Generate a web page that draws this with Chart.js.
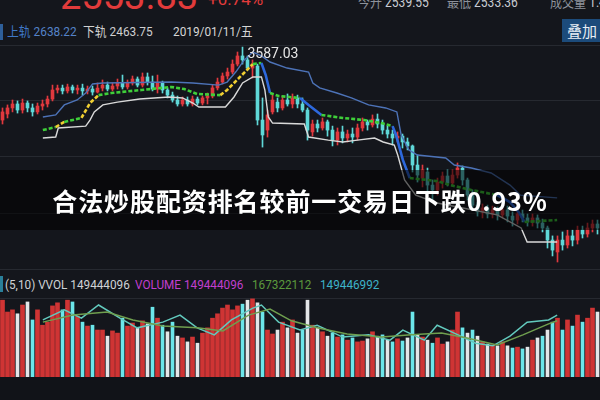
<!DOCTYPE html>
<html lang="zh-CN">
<head>
<meta charset="utf-8">
<title>K线走势</title>
<script src="https://cdn.jsdelivr.net/npm/chart.js@4.4.1/dist/chart.umd.min.js"></script>
<style>
    html, body { margin: 0; padding: 0; background: #14161c; }
    #wrap {
        position: relative; width: 600px; height: 400px; overflow: hidden;
        background: #14161c; font-family: Roboto, "Noto Sans CJK SC", sans-serif;
    }
    .abs { position: absolute; white-space: nowrap; }
    .narrow { transform-origin: 0 0; }
    #priceBox { position: absolute; left: 0; top: 45px; width: 600px; height: 225px; }
    #volBox { position: absolute; left: 0; top: 298px; width: 600px; height: 79px; }
    #bottomStrip { position: absolute; left: 0; top: 377px; width: 600px; height: 23px; background: #111318; }
    .hline { position: absolute; left: 0; width: 600px; height: 1px; background: #262930; }
    .top1 { top: -6px; font-size: 14px; line-height: 16px; color: #8d929b; transform: scaleX(0.86); }
    .row2 { top: 24px; font-size: 13px; line-height: 16px; transform: scaleX(0.91); }
    .volRow { top: 276px; font-size: 13.5px; line-height: 16px; transform: scaleX(0.87); }
    #caption {
        position: absolute; left: 0; top: 170px; width: 600px; height: 60px;
        background: rgba(0, 0, 0, 0.55); color: #fff; text-align: center;
        font: bold 25px/60px "Noto Sans CJK SC", sans-serif; letter-spacing: 0.9px;
    }
    #btn {
        position: absolute; left: 562px; top: 19px; width: 40px; height: 23px;
        background: #1c4b7b; color: #e8eef5; font: 15px/23px "Noto Sans CJK SC", sans-serif;
        text-align: center;
    }
</style>
</head>
<body>
<div id="wrap">
    <!-- 顶部行情（被裁切） -->
    <div class="abs" style="left:60px; top:-26px; font-size:38px; line-height:44px; color:#e23b3b;">2553.83</div>
    <div class="abs" style="left:208px; top:-11px; font-size:17px; line-height:20px; color:#e23b3b;">+0.74%</div>
    <div class="abs narrow top1" style="left:358px;">今开 <span style="color:#c9ccd2">2539.55</span></div>
    <div class="abs narrow top1" style="left:447px;">最低 <span style="color:#c9ccd2">2533.36</span></div>
    <div class="abs narrow top1" style="left:550px;">成交量 <span style="color:#c9ccd2">1.49亿</span></div>

    <!-- 布林带数值 -->
    <div class="abs" style="left:0; top:24px; width:3px; height:16px; background:#2e5f9a;"></div>
    <div class="abs narrow row2" style="left:7px; color:#3f78c8;">上轨 <span style="color:#5583c8">2638.22</span></div>
    <div class="abs narrow row2" style="left:83px; color:#d0d0d0;">下轨 2463.75</div>
    <div class="abs narrow row2" style="left:173px; color:#d6d6d6;">2019/01/11/五</div>
    <div id="btn">叠加</div>

    <div id="priceBox"><canvas id="price" width="600" height="225"></canvas></div>
    <div id="peakLabel" class="abs" style="font-size:14px; line-height:14px; color:#e6e6e6;">3587.03</div>

    <!-- 成交量 -->
    <div class="hline" style="top:298px;"></div>
    <div class="abs" style="left:0; top:276px; width:3px; height:16px; background:#2a7f9a;"></div>
    <div class="abs narrow volRow" style="left:5px; color:#cfd2d6;">(5,10) VVOL 149444096</div>
    <div class="abs narrow volRow" style="left:135px; color:#c13fcf;">VOLUME 149444096</div>
    <div class="abs narrow volRow" style="left:252px; color:#5c9a3d;">167322112</div>
    <div class="abs narrow volRow" style="left:320px; color:#3db3c9;">149446992</div>
    <div id="volBox"><canvas id="vol" width="600" height="79"></canvas></div>
    <div id="bottomStrip"></div>

    <div id="caption">合法炒股配资排名较前一交易日下跌0.93%</div>
</div>

<script>
// 日K数据
const openP = [3201,3233,3265,3286,3254,3291,3265,3244,3275,3286,
    3312,3360,3370,3355,3376,3360,3370,3355,3365,3349,
    3370,3386,3365,3381,3397,3376,3397,3418,3386,3429,
    3402,3365,3397,3360,3333,3307,3286,3307,3286,3312,
    3291,3318,3328,3371,3402,3434,3455,3497,3540,3519,
    3476,3487,3201,3148,3244,3296,3265,3307,3286,3318,
    3286,3254,3138,3180,3159,3191,3148,3095,3138,3106,
    3127,3111,3159,3191,3175,3206,3180,3148,3127,3106,
    3116,3085,3064,2963,2894,2926,2857,2831,2873,2905,
    2868,2910,2947,2884,2804,2751,2715,2736,2704,2725,
    2699,2725,2693,2672,2704,2683,2662,2683,2656,2630,
    2566,2503,2566,2540,2588,2566,2619,2598,2630,2651];
const closeP = [3244,3265,3286,3254,3291,3265,3244,3275,3286,3312,
    3360,3370,3355,3376,3360,3370,3355,3365,3349,3370,
    3386,3365,3381,3397,3376,3397,3418,3386,3429,3402,
    3365,3397,3360,3333,3307,3286,3307,3286,3312,3291,
    3318,3328,3371,3402,3434,3455,3497,3540,3519,3476,
    3497,3201,3122,3228,3307,3265,3307,3286,3318,3286,
    3254,3148,3180,3159,3191,3148,3095,3138,3106,3127,
    3111,3159,3191,3175,3206,3180,3148,3127,3106,3116,
    3085,3064,2963,2910,2937,2857,2831,2873,2905,2868,
    2910,2947,2884,2804,2751,2715,2736,2704,2725,2699,
    2725,2693,2672,2704,2683,2662,2683,2656,2630,2566,
    2513,2566,2540,2588,2566,2619,2598,2630,2651,2630];
const highP = [3265,3281,3307,3302,3312,3302,3286,3291,3307,3328,
    3386,3386,3386,3391,3386,3386,3391,3381,3381,3397,
    3413,3402,3397,3418,3439,3413,3434,3429,3450,3450,
    3434,3439,3407,3371,3349,3328,3323,3323,3328,3323,
    3328,3344,3386,3423,3450,3476,3519,3561,3587,3540,
    3519,3497,3318,3254,3333,3318,3328,3339,3339,3333,
    3318,3265,3201,3201,3212,3201,3169,3159,3169,3148,
    3159,3180,3212,3201,3228,3233,3201,3169,3148,3138,
    3127,3106,3069,3016,2963,2947,2884,2894,2926,2937,
    2937,2974,2958,2894,2831,2767,2757,2751,2746,2741,
    2751,2746,2715,2725,2725,2704,2704,2699,2677,2640,
    2588,2588,2609,2619,2619,2640,2640,2656,2672,2672];
const lowP = [3180,3212,3244,3238,3238,3244,3222,3233,3254,3270,
    3302,3344,3339,3344,3344,3339,3333,3339,3333,3344,
    3355,3355,3355,3365,3365,3365,3386,3376,3376,3386,
    3355,3344,3344,3318,3296,3275,3275,3275,3275,3281,
    3281,3286,3318,3360,3392,3418,3445,3487,3497,3466,
    3423,3175,3058,3111,3233,3244,3254,3275,3265,3265,
    3244,3095,3116,3138,3148,3116,3064,3069,3080,3085,
    3080,3095,3143,3148,3164,3159,3127,3106,3069,3085,
    3053,3043,2926,2873,2847,2820,2778,2804,2841,2852,
    2852,2894,2857,2778,2736,2693,2683,2683,2683,2672,
    2683,2662,2640,2651,2662,2640,2640,2630,2609,2524,
    2482,2450,2513,2524,2535,2545,2577,2582,2609,2598];

// 成交量（百万）
const volume = [175,148,153,144,164,171,130,153,118,125,
    162,169,153,175,171,139,125,116,118,107,
    107,93,105,100,134,116,123,112,128,121,
    159,134,118,103,125,93,89,80,91,77,
    100,112,134,144,157,164,153,162,166,175,
    178,169,148,107,98,107,125,112,130,100,
    107,175,118,112,103,93,100,91,96,84,
    89,80,82,87,103,93,96,84,80,87,
    82,89,148,96,91,84,77,89,75,80,
    107,148,112,100,107,93,80,75,73,71,
    80,71,66,68,64,68,84,89,93,107,
    125,134,107,130,116,141,125,134,157,148];

// 布林带 [序号, 点位]
const upperBand = [[-0.5,3217],[2.5,3228],[4.5,3281],[7.5,3307],[9.5,3344],[11.1,3392],[13.5,3397],
    [29.5,3402],[34.5,3397],[40.5,3386],[42.5,3402],[44.5,3455],[46.5,3519],[48.5,3561],[50.5,3540],
    [52.5,3508],[56.5,3476],[61.5,3455],[62.5,3397],[64.1,3371],[68.1,3344],[71.5,3318],[75.5,3281],
    [79.5,3265],[82.1,3244],[83.1,3122],[84.9,3043],[86.9,3016],[93.5,3000],[95.5,2963],[99.5,2947],
    [104.1,2921],[108.5,2857],[110.9,2804],[119.5,2789]];
const midBand = [[-0.5,3148],[2.5,3164],[4.5,3191],[8.5,3212],[10.5,3291],[12.5,3333],[15.5,3344],
    [22.5,3360],[29.5,3376],[32.5,3365],[35.5,3339],[40.9,3333],[42.5,3360],[45.5,3429],[48.5,3497],
    [50.5,3503],[51.5,3439],[52.5,3344],[54.5,3328],[59.5,3318],[61.5,3281],[64.5,3228],[69.5,3212],
    [74.5,3201],[78.5,3185],[81.1,3169],[81.9,3122],[83.5,2990],[85.1,2894],[91.5,2878],[94.5,2857],
    [99.5,2831],[105.5,2804],[108.5,2767],[110.5,2715],[111.9,2662],[119.5,2672]];
const lowerBand = [[-0.5,3106],[2.5,3111],[3.1,3159],[9.5,3169],[10.5,3201],[11.5,3244],[13.5,3281],
    [16.9,3296],[22.1,3312],[28.9,3323],[32.1,3318],[34.5,3291],[35.9,3270],[42.1,3270],[44.1,3323],
    [46.1,3397],[48.5,3429],[50.5,3429],[51.3,3360],[52.1,3217],[53.1,3185],[60.5,3180],[61.5,3111],
    [66.1,3095],[69.5,3085],[72.9,3095],[76.9,3106],[78.9,3085],[81.5,3069],[82.3,3016],[83.9,2884],
    [86.5,2804],[91.5,2762],[97.5,2736],[105.5,2699],[111.1,2630],[112.5,2556],[119.5,2556]];

// 成交量均线 [序号, 百万]
const volMa5 = [[-0.5,130],[4.5,153],[8.5,134],[12.5,164],[17.5,134],[21.5,112],[27.5,125],[31.5,141],
    [35.5,112],[39.5,96],[43.5,130],[48.5,157],[50.5,164],[54.5,125],[59.5,107],[63.5,118],[69.5,91],
    [75.5,96],[80.5,84],[83.5,107],[88.5,84],[91.5,118],[95.5,100],[100.5,77],[104.5,71],[108.5,93],
    [112.5,125],[117.5,130],[119.5,141]];
const volMa10 = [[-0.5,125],[6.5,141],[14.5,148],[20.5,130],[27.5,116],[35.5,112],[41.5,105],[47.5,141],
    [52.5,155],[57.5,128],[63.5,112],[70.5,98],[78.5,91],[85.5,96],[92.5,100],[98.5,89],[105.5,73],
    [111.5,96],[117.5,121],[119.5,128]];

// 价格轴范围与水平网格
const priceMin = 2413;
const priceMax = 3598;
const priceGrid = [2413, 2709, 3006, 3302, 3598];
const volMax = 180;

const N = openP.length;
const days = openP.map((_, i) => i);

const UP = '#e0393e';
const DOWN = '#5fd8d8';

function toXY(pairs) {
    return pairs.map(([x, y]) => ({ x, y }));
}

/**
 * 中轨斜率：上行黄、下行蓝、走平绿
 */
function midSlope(ctx) {
    return (ctx.p1.parsed.y - ctx.p0.parsed.y) / (ctx.p1.parsed.x - ctx.p0.parsed.x);
}

const lineBase = { type: 'line', xAxisID: 'xl', pointRadius: 0, tension: 0, order: 0 };
const candleColors = openP.map((o, i) => closeP[i] >= o ? UP : DOWN);

const priceChart = new Chart(document.getElementById('price'), {
    type: 'bar',
    data: {
        labels: days,
        datasets: [
            { ...lineBase, data: toXY(upperBand), borderColor: '#4d73b8', borderWidth: 1.4 },
            { ...lineBase, data: toXY(lowerBand), borderColor: '#d9d9d9', borderWidth: 1.4 },
            {
                ...lineBase, data: toXY(midBand), borderWidth: 2.6,
                segment: {
                    borderColor: ctx => {
                        const s = midSlope(ctx);
                        if (s > 11) return '#f0cf32';
                        if (s < -11) return '#2d68dc';
                        return '#3fcf3a';
                    },
                    borderDash: ctx => midSlope(ctx) < -11 ? [] : [4, 2]
                }
            },
            {
                data: lowP.map((l, i) => [l, highP[i]]),
                backgroundColor: candleColors, barThickness: 1, grouped: false, order: 2
            },
            {
                data: openP.map((o, i) => [o, closeP[i]]),
                backgroundColor: candleColors, barThickness: 3, minBarLength: 1, grouped: false, order: 1
            }
        ]
    },
    options: {
        responsive: false,
        animation: false,
        layout: { padding: { top: 0, bottom: 1, left: 0, right: 0 } },
        plugins: { legend: { display: false }, tooltip: { enabled: false } },
        scales: {
            x: { type: 'category', display: false, offset: true },
            xl: { type: 'linear', display: false, min: -0.5, max: N - 0.5 },
            y: {
                min: priceMin, max: priceMax, position: 'right',
                ticks: { display: false },
                border: { display: false },
                grid: { color: '#262930', drawTicks: false },
                afterBuildTicks: ax => { ax.ticks = priceGrid.map(v => ({ value: v })); },
                afterFit: ax => { ax.width = 0; }
            }
        }
    }
});

// 最高点标注
const peak = highP.indexOf(Math.max(...highP));
const peakLabel = document.getElementById('peakLabel');
peakLabel.style.left = (priceChart.scales.x.getPixelForValue(peak) + 5) + 'px';
peakLabel.style.top = (45 + priceChart.scales.y.getPixelForValue(highP[peak]) - 1) + 'px';

// 成交量：阳量红色，阴量青/白相间
const upVol = volume.map((v, i) => closeP[i] >= openP[i] ? v : null);
const downVol = volume.map((v, i) => closeP[i] >= openP[i] ? null : v);

new Chart(document.getElementById('vol'), {
    type: 'bar',
    data: {
        labels: days,
        datasets: [
            { ...lineBase, data: toXY(volMa10), borderColor: '#6f9f4f', borderWidth: 1.5 },
            { ...lineBase, data: toXY(volMa5), borderColor: '#62c9bd', borderWidth: 1.5 },
            { data: upVol, backgroundColor: '#cf3434', barThickness: 4, grouped: false, order: 1 },
            {
                data: downVol, grouped: false, order: 1, barThickness: 3,
                backgroundColor: days.map(i => i % 2 ? '#e4e6e8' : '#6be6ea')
            }
        ]
    },
    options: {
        responsive: false,
        animation: false,
        layout: { padding: 0 },
        plugins: { legend: { display: false }, tooltip: { enabled: false } },
        scales: {
            x: { type: 'category', display: false, offset: true },
            xl: { type: 'linear', display: false, min: -0.5, max: N - 0.5 },
            y: { min: 0, max: volMax, display: false }
        }
    }
});
</script>
</body>
</html>
